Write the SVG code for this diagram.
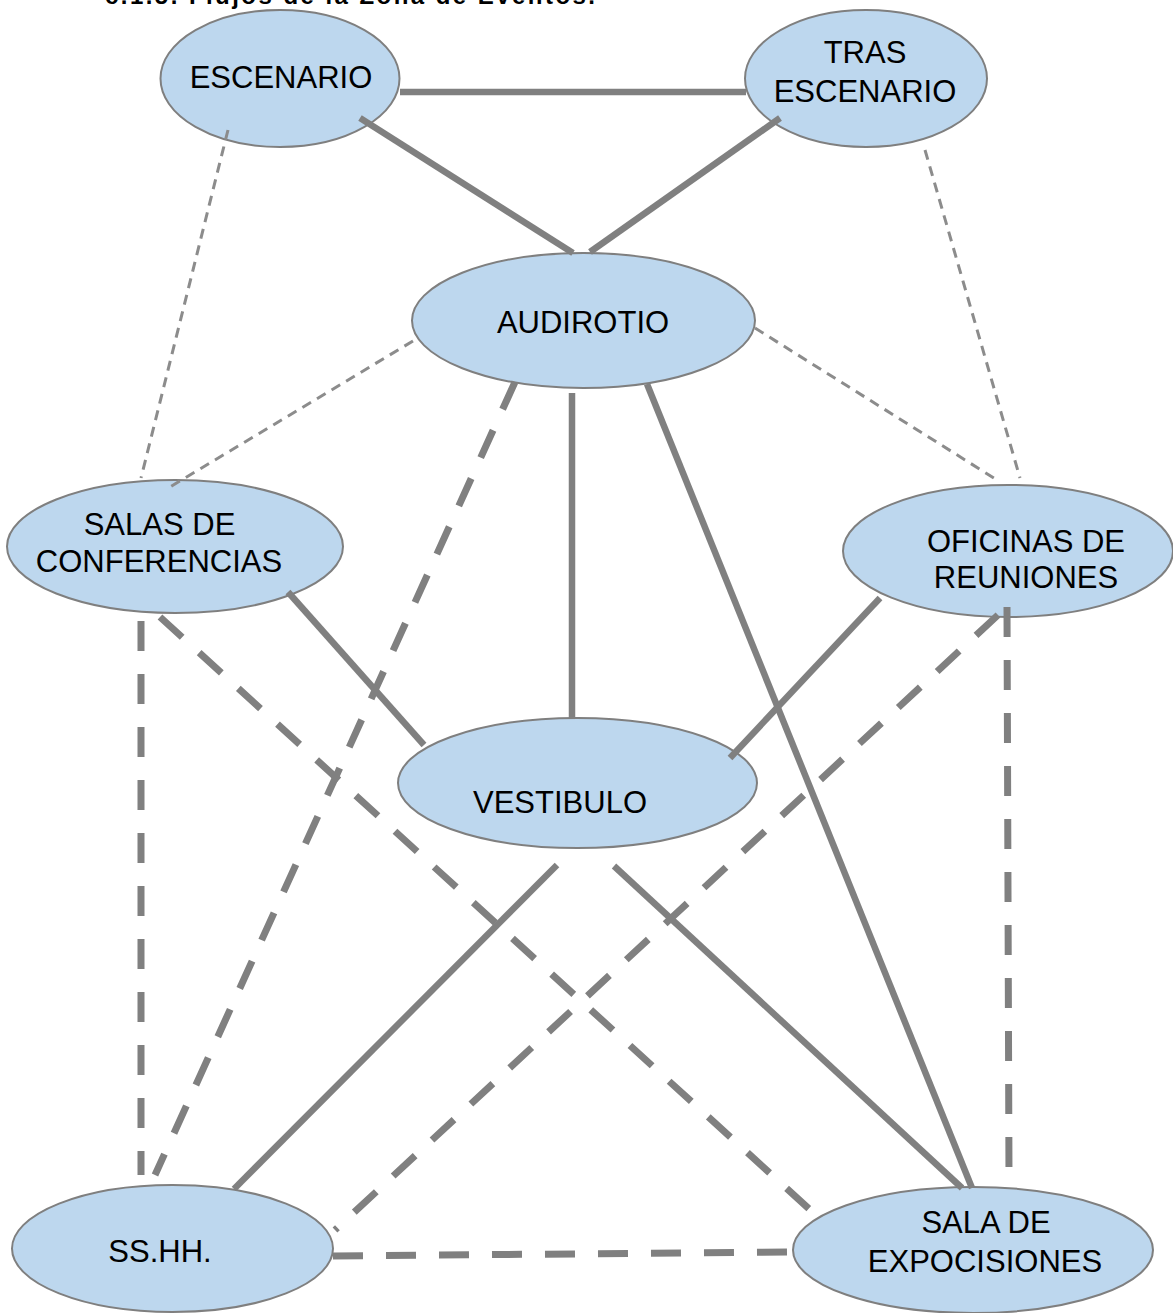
<svg xmlns="http://www.w3.org/2000/svg" width="1173" height="1313" viewBox="0 0 1173 1313">
<style>
.node ellipse{fill:#BDD7EE;stroke:#7F7F7F;stroke-width:2}
.node text{font-family:"Liberation Sans",Arial,sans-serif;font-size:31px;fill:#000;text-anchor:middle}
.title{font-family:"Liberation Sans",Arial,sans-serif;font-size:24px;font-weight:bold;fill:#000}
.solid{stroke:#808080;stroke-width:6.5;fill:none}
.thick{stroke:#808080;stroke-width:7;fill:none;stroke-dasharray:30 23}
.thin{stroke:#8C8C8C;stroke-width:3;fill:none;stroke-dasharray:10 7}
</style>
<rect width="1173" height="1313" fill="#fff"/>
<text class="title" x="105" y="4" textLength="490">c.1.5. Flujos de la Zona de Eventos.</text>
<g id="nodes">
<g id="escenario" class="node"><ellipse cx="280" cy="78.5" rx="119.5" ry="68.5"/><text x="281" y="88">ESCENARIO</text></g>
<g id="tras-escenario" class="node"><ellipse cx="866" cy="78.5" rx="121" ry="68.5"/><text x="865" y="63">TRAS</text><text x="865" y="102">ESCENARIO</text></g>
<g id="audirotio" class="node"><ellipse cx="583.5" cy="320.5" rx="171.5" ry="67.5"/><text x="583" y="333">AUDIROTIO</text></g>
<g id="salas" class="node"><ellipse cx="175" cy="546.5" rx="168" ry="66.5"/><text x="159.5" y="535">SALAS DE</text><text x="159" y="572">CONFERENCIAS</text></g>
<g id="oficinas" class="node"><ellipse cx="1008" cy="551" rx="165" ry="66"/><text x="1026" y="552">OFICINAS DE</text><text x="1026" y="588">REUNIONES</text></g>
<g id="vestibulo" class="node"><ellipse cx="577.5" cy="783" rx="179.5" ry="65"/><text x="560" y="813">VESTIBULO</text></g>
<g id="sshh" class="node"><ellipse cx="172.5" cy="1248.5" rx="160.5" ry="63.5"/><text x="160" y="1262">SS.HH.</text></g>
<g id="sala-expo" class="node"><ellipse cx="973" cy="1250" rx="180" ry="63"/><text x="986" y="1233">SALA DE</text><text x="985" y="1272">EXPOCISIONES</text></g>
</g>
<g id="connectors">
<line class="solid" x1="400" y1="92" x2="746" y2="92"/>
<line class="solid" x1="360" y1="118" x2="573" y2="253"/>
<line class="solid" x1="780" y1="118" x2="590" y2="252"/>
<line class="solid" x1="572" y1="393" x2="572" y2="718"/>
<line class="solid" x1="647" y1="384" x2="972" y2="1188"/>
<line class="solid" x1="288" y1="592" x2="424" y2="745"/>
<line class="solid" x1="880" y1="598" x2="730" y2="758"/>
<line class="solid" x1="557" y1="865" x2="234" y2="1189"/>
<line class="solid" x1="614" y1="866" x2="962" y2="1188"/>
<line class="thin" x1="228" y1="130" x2="141" y2="478"/>
<line class="thin" x1="413" y1="341" x2="170" y2="487"/>
<line class="thin" x1="755" y1="328" x2="997" y2="480"/>
<line class="thin" x1="925" y1="150" x2="1020" y2="478"/>
<line class="thick" x1="515" y1="382" x2="155" y2="1175"/>
<line class="thick" x1="141" y1="621" x2="141" y2="1175"/>
<line class="thick" x1="160" y1="617" x2="818" y2="1217"/>
<line class="thick" x1="998" y1="615" x2="335" y2="1230"/>
<line class="thick" x1="1007" y1="607" x2="1009" y2="1178"/>
<line class="thick" x1="333" y1="1256" x2="795" y2="1252"/>
</g>
</svg>
